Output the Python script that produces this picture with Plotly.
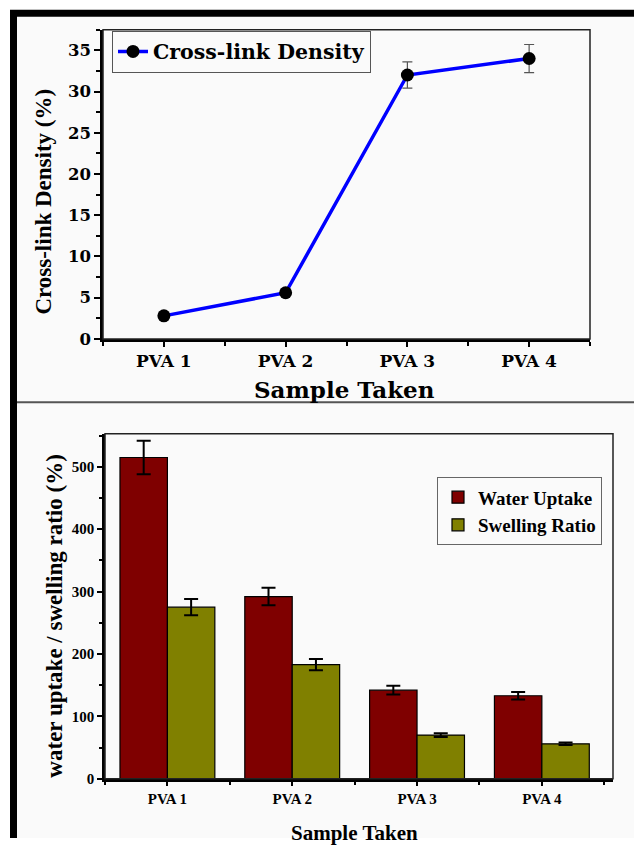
import plotly.graph_objects as go

W, H = 634, 848

# ---------- data ----------
samples = ["PVA 1", "PVA 2", "PVA 3", "PVA 4"]
crosslink_density = [2.8, 5.6, 32.0, 34.0]
crosslink_err = [0.3, 0.3, 1.6, 1.7]

water_uptake = [515, 292, 142, 133]
water_uptake_err = [27, 14, 7, 6]
swelling_ratio = [275, 183, 70, 56]
swelling_ratio_err = [13, 9, 3, 2]

top_yticks = [0, 5, 10, 15, 20, 25, 30, 35]
bottom_yticks = [0, 100, 200, 300, 400, 500]

xpos = list(range(len(samples)))

SERIF = "Liberation Serif, Times New Roman, serif"
WIDE = "DejaVu Serif, serif"


def px(x):
    return x / W


def py(y):
    return 1 - y / H


fig = go.Figure()

# ---------- top panel ----------
fig.add_trace(go.Scatter(
    x=xpos, y=crosslink_density, mode="lines+markers",
    name="<b>Cross-link Density</b>",
    line=dict(color="#0000ff", width=3.5),
    marker=dict(color="black", size=13),
    error_y=dict(type="data", array=crosslink_err, color="#555555", thickness=1.2, width=5),
    xaxis="x", yaxis="y", legend="legend",
))

# ---------- bottom panel ----------
fig.add_trace(go.Bar(
    x=xpos, y=water_uptake, name="<b>Water Uptake</b>",
    marker=dict(color="#7f0000", line=dict(color="black", width=1.2)),
    error_y=dict(type="data", array=water_uptake_err, color="black", thickness=2, width=7),
    xaxis="x2", yaxis="y2", legend="legend2",
))
fig.add_trace(go.Bar(
    x=xpos, y=swelling_ratio, name="<b>Swelling Ratio</b>",
    marker=dict(color="#808000", line=dict(color="black", width=1.2)),
    error_y=dict(type="data", array=swelling_ratio_err, color="black", thickness=2, width=7),
    xaxis="x2", yaxis="y2", legend="legend2",
))

axis_common = dict(showline=True, linecolor="black", linewidth=2.5, ticks="outside",
                   tickcolor="black", tickwidth=2, showgrid=False, zeroline=False)

fig.update_layout(
    width=W, height=H,
    margin=dict(l=0, r=0, t=0, b=0),
    paper_bgcolor="white",
    plot_bgcolor="#fdfdfd",
    font=dict(family=SERIF, color="black"),
    showlegend=True,
    barmode="group", bargap=0.24, bargroupgap=0,
    xaxis=dict(
        domain=[px(103), px(590)], anchor="y",
        range=[-0.5, 3.5], tickmode="array", tickvals=xpos,
        ticktext=[f"<b>{s}</b>" for s in samples],
        tickfont=dict(size=17, family=WIDE), ticklen=5,
        minor=dict(tickvals=[-0.5, 0.5, 1.5, 2.5, 3.5], ticks="outside", ticklen=4,
                   tickwidth=2, tickcolor="black"),
        **axis_common,
    ),
    yaxis=dict(
        domain=[py(343), py(30)], anchor="x",
        range=[0, 37.5], tickmode="array", tickvals=top_yticks,
        ticktext=[f"<b>{v}</b>" for v in top_yticks],
        tickfont=dict(size=16.5, family=WIDE), ticklen=6,
        minor=dict(dtick=2.5, tick0=0, ticks="outside", ticklen=4, tickwidth=2, tickcolor="black"),
        **axis_common,
    ),
    xaxis2=dict(
        domain=[px(105), px(613)], anchor="y2",
        range=[-0.5, 3.57], tickmode="array", tickvals=xpos,
        ticktext=[f"<b>{s}</b>" for s in samples],
        tickfont=dict(size=15, family=SERIF), ticklen=5,
        minor=dict(tickvals=[-0.5, 0.5, 1.5, 2.5, 3.5], ticks="outside", ticklen=4,
                   tickwidth=2, tickcolor="black"),
        **axis_common,
    ),
    yaxis2=dict(
        domain=[py(788), py(439)], anchor="x2",
        range=[0, 553], tickmode="array", tickvals=bottom_yticks,
        ticktext=[f"<b>{v}</b>" for v in bottom_yticks],
        tickfont=dict(size=15, family=SERIF), ticklen=5,
        minor=dict(dtick=50, tick0=0, ticks="outside", ticklen=3, tickwidth=2, tickcolor="black"),
        **axis_common,
    ),
    legend=dict(
        x=px(112), y=py(31), xanchor="left", yanchor="top",
        bgcolor="rgba(255,255,255,0)", bordercolor="#555555", borderwidth=1,
        font=dict(size=20.5, family=WIDE), itemwidth=30, tracegroupgap=0,
    ),
    legend2=dict(
        x=px(437), y=py(483), xanchor="left", yanchor="top",
        bgcolor="rgba(255,255,255,0)", bordercolor="#666666", borderwidth=1,
        font=dict(size=19, family=SERIF), itemwidth=30, tracegroupgap=0,
    ),
)

annotations = [
    dict(text="<b>Sample Taken</b>", x=px(345), y=py(394), xref="paper", yref="paper",
         xanchor="center", yanchor="middle", showarrow=False, font=dict(size=23, family=WIDE)),
    dict(text="<b>Cross-link Density (%)</b>", x=px(44), y=py(204), xref="paper", yref="paper",
         xanchor="center", yanchor="middle", textangle=-90, showarrow=False,
         font=dict(size=23, family=SERIF)),
    dict(text="<b>Sample Taken</b>", x=px(354), y=py(843), xref="paper", yref="paper",
         xanchor="center", yanchor="middle", showarrow=False, font=dict(size=21, family=SERIF)),
    dict(text="<b>water uptake / swelling ratio (%)</b>", x=px(55), y=py(624), xref="paper", yref="paper",
         xanchor="center", yanchor="middle", textangle=-90, showarrow=False,
         font=dict(size=23, family=SERIF)),
]

shapes = [
    # light page background inside border
    dict(type="rect", xref="paper", yref="paper", x0=px(17), x1=1, y0=0, y1=py(17),
         fillcolor="#fafafa", line=dict(width=0), layer="below"),
    # thick black border (top, left)
    dict(type="line", xref="paper", yref="paper", x0=px(10), x1=1, y0=py(13.5), y1=py(13.5),
         line=dict(color="black", width=7)),
    dict(type="line", xref="paper", yref="paper", x0=px(13.5), x1=px(13.5), y0=0, y1=py(10),
         line=dict(color="black", width=7)),
    # separator
    dict(type="line", xref="paper", yref="paper", x0=px(17), x1=1, y0=py(407), y1=py(407),
         line=dict(color="#555555", width=2)),
    # plot frames
    dict(type="rect", xref="x domain", yref="y domain", x0=0, x1=1, y0=0, y1=1,
         line=dict(color="#222222", width=1.5)),
    dict(type="rect", xref="x2 domain", yref="y2 domain", x0=0, x1=1, y0=0, y1=1,
         line=dict(color="#222222", width=1.5)),
]
fig.update_layout(shapes=shapes, annotations=annotations)

fig.write_html("out.html")
